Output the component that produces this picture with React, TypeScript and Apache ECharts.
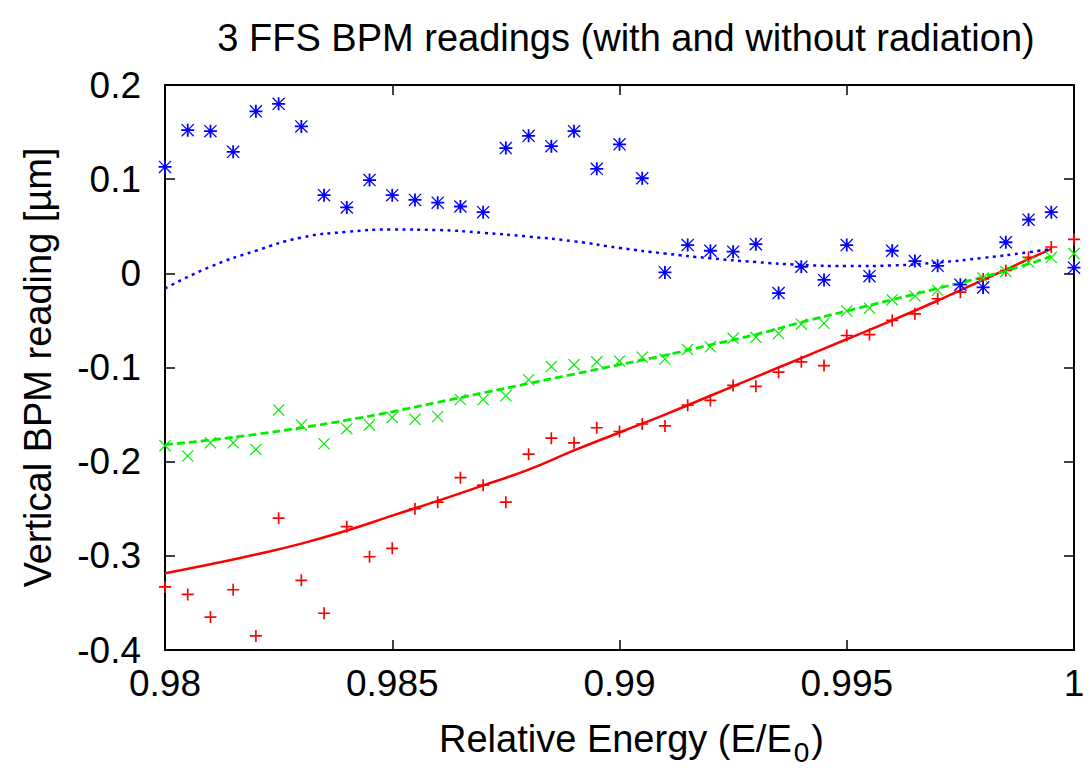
import React, { useEffect, useRef } from "react";
import * as echarts from "echarts";

const energy = [
  0.98, 0.9805, 0.981, 0.9815, 0.982, 0.9825, 0.983, 0.9835, 0.984, 0.9845, 0.985, 0.9855, 0.986,
  0.9865, 0.987, 0.9875, 0.988, 0.9885, 0.989, 0.9895, 0.99, 0.9905, 0.991, 0.9915, 0.992, 0.9925, 0.993,
  0.9935, 0.994, 0.9945, 0.995, 0.9955, 0.996, 0.9965, 0.997, 0.9975, 0.998, 0.9985, 0.999, 0.9995, 1.0,
];

const redPoints = [
  -0.333, -0.341, -0.365, -0.336, -0.385, -0.26, -0.326, -0.361, -0.269, -0.301, -0.292, -0.25, -0.243,
  -0.217, -0.225, -0.243, -0.192, -0.175, -0.18, -0.164, -0.168, -0.16, -0.162, -0.14, -0.135, -0.119, -0.12,
  -0.105, -0.094, -0.098, -0.066, -0.065, -0.05, -0.043, -0.027, -0.02, -0.006, 0.003, 0.017, 0.028, 0.036,
];

const greenPoints = [
  -0.183, -0.194, -0.18, -0.18, -0.187, -0.145, -0.161, -0.181, -0.165, -0.161, -0.153, -0.155, -0.152,
  -0.134, -0.134, -0.13, -0.113, -0.099, -0.097, -0.094, -0.093, -0.089, -0.091, -0.081, -0.078, -0.069, -0.068,
  -0.064, -0.054, -0.053, -0.04, -0.037, -0.028, -0.024, -0.018, -0.012, -0.005, 0.002, 0.012, 0.017, 0.021,
];

const bluePoints = [
  0.113, 0.152, 0.151, 0.129, 0.172, 0.18, 0.156, 0.083, 0.07, 0.099, 0.083, 0.078, 0.075,
  0.071, 0.065, 0.133, 0.146, 0.135, 0.151, 0.111, 0.137, 0.101, 0.001, 0.03, 0.024, 0.023, 0.031,
  -0.021, 0.007, -0.007, 0.03, -0.003, 0.024, 0.013, 0.008, -0.012, -0.015, 0.033, 0.057, 0.065, 0.006,
];

const fitEnergy = [
  0.98, 0.981, 0.982, 0.983, 0.984, 0.985, 0.986, 0.987, 0.988, 0.989, 0.99,
  0.991, 0.992, 0.993, 0.994, 0.995, 0.996, 0.997, 0.998, 0.999, 0.9995,
];

const redFit = [
  -0.3185, -0.309, -0.2986, -0.287, -0.2731, -0.2573, -0.2416, -0.2252, -0.2084, -0.188, -0.169,
  -0.15, -0.13, -0.11, -0.09, -0.07, -0.05, -0.029, -0.007, 0.015, 0.026,
];

const greenFit = [
  -0.182, -0.177, -0.171, -0.164, -0.156, -0.147, -0.137, -0.127, -0.117, -0.107, -0.097,
  -0.087, -0.076, -0.065, -0.052, -0.04, -0.028, -0.016, -0.004, 0.01, 0.018,
];

const blueFit = [
  -0.016, 0.007, 0.024, 0.038, 0.044, 0.0465, 0.046, 0.043, 0.039, 0.034, 0.027,
  0.021, 0.016, 0.012, 0.009, 0.0077, 0.0084, 0.0115, 0.0164, 0.0224, 0.0259,
];

const titleText = "3 FFS BPM readings (with and without radiation)";
const xTitle = "Relative Energy (E/E{sub|0})";
const yTitle = "Vertical BPM reading [\u00b5m]";

const FONT = '"Liberation Sans", Arial, Helvetica, sans-serif';

const PLUS = "path://M43,0 H57 V43 H100 V57 H57 V100 H43 V57 H0 V43 H43 Z";
const CROSS = "path://M0,7 L7,0 L100,93 L93,100 Z M93,0 L100,7 L7,100 L0,93 Z";
const STAR =
  "path://M43,0 H57 V43 H100 V57 H57 V100 H43 V57 H0 V43 H43 Z M0,7 L7,0 L100,93 L93,100 Z M93,0 L100,7 L7,100 L0,93 Z";

function zip(xs: number[], ys: number[]) {
  return xs.map((x, i) => [x, ys[i]]);
}

function fmtX(v: number) {
  return String(parseFloat(v.toFixed(4)));
}
function fmtY(v: number) {
  return String(parseFloat(v.toFixed(3)));
}

export default function App() {
  const ref = useRef<HTMLDivElement>(null);
  useEffect(() => {
    document.body.style.margin = "0";
    const chart = echarts.init(ref.current!, null, { renderer: "svg" });
    const axisLine = { onZero: false, lineStyle: { color: "#000", width: 2 } };
    const tick = { inside: true, length: 10, lineStyle: { color: "#000", width: 1.5 } };
    const FS = 37;
    const TFS = 38;
    chart.setOption({
      animation: false,
      backgroundColor: "#fff",
      textStyle: { fontFamily: FONT },
      grid: { left: 165, right: 15, top: 85, bottom: 114, containLabel: false },
      graphic: [
        {
          type: "text",
          x: 626,
          y: 38,
          style: {
            text: titleText,
            font: `${TFS}px ${FONT}`,
            fill: "#000",
            textAlign: "center",
            textVerticalAlign: "middle",
          },
        },
      ],
      xAxis: [
        {
          type: "value",
          min: 0.98,
          max: 1.0,
          interval: 0.005,
          position: "bottom",
          axisLine,
          axisTick: tick,
          splitLine: { show: false },
          axisLabel: { fontSize: FS, color: "#000", margin: 15, fontFamily: FONT, formatter: fmtX },
          name: xTitle,
          nameLocation: "middle",
          nameGap: 62,
          nameTextStyle: {
            fontSize: TFS,
            color: "#000",
            fontFamily: FONT,
            padding: [0, 0, 0, 24],
            rich: {
              sub: { fontSize: 28, color: "#000", fontFamily: FONT, padding: [26, 2, 0, 2], verticalAlign: "bottom" },
            },
          },
        },
        {
          type: "value",
          min: 0.98,
          max: 1.0,
          interval: 0.005,
          position: "top",
          axisLine,
          axisTick: tick,
          splitLine: { show: false },
          axisLabel: { show: false },
        },
      ],
      yAxis: [
        {
          type: "value",
          min: -0.4,
          max: 0.2,
          interval: 0.1,
          position: "left",
          axisLine,
          axisTick: tick,
          splitLine: { show: false },
          axisLabel: { fontSize: FS, color: "#000", margin: 24, fontFamily: FONT, formatter: fmtY },
          name: yTitle,
          nameLocation: "middle",
          nameRotate: 90,
          nameGap: 108,
          nameTextStyle: { fontSize: TFS, color: "#000", fontFamily: FONT },
        },
        {
          type: "value",
          min: -0.4,
          max: 0.2,
          interval: 0.1,
          position: "right",
          axisLine,
          axisTick: tick,
          splitLine: { show: false },
          axisLabel: { show: false },
        },
      ],
      series: [
        {
          type: "line",
          data: zip(fitEnergy, redFit),
          smooth: true,
          showSymbol: false,
          lineStyle: { color: "#ff0000", width: 2.5, type: "solid" },
          z: 3,
        },
        {
          type: "line",
          data: zip(fitEnergy, greenFit),
          smooth: true,
          showSymbol: false,
          lineStyle: { color: "#00ee00", width: 2.8, type: [8, 4] },
          z: 3,
        },
        {
          type: "line",
          data: zip(fitEnergy, blueFit),
          smooth: true,
          showSymbol: false,
          lineStyle: { color: "#0000ff", width: 2.5, type: [3, 4.5] },
          z: 3,
        },
        {
          type: "scatter",
          data: zip(energy, redPoints),
          symbol: PLUS,
          symbolSize: 12,
          itemStyle: { color: "#ff0000", opacity: 1 },
          z: 4,
        },
        {
          type: "scatter",
          data: zip(energy, greenPoints),
          symbol: CROSS,
          symbolSize: 12,
          itemStyle: { color: "#00ee00", opacity: 1 },
          z: 4,
        },
        {
          type: "scatter",
          data: zip(energy, bluePoints),
          symbol: STAR,
          symbolSize: 13,
          itemStyle: { color: "#0000ff", opacity: 1 },
          z: 4,
        },
      ],
    });
    return () => chart.dispose();
  }, []);
  return <div ref={ref} style={{ width: 1089, height: 771 }} />;
}
